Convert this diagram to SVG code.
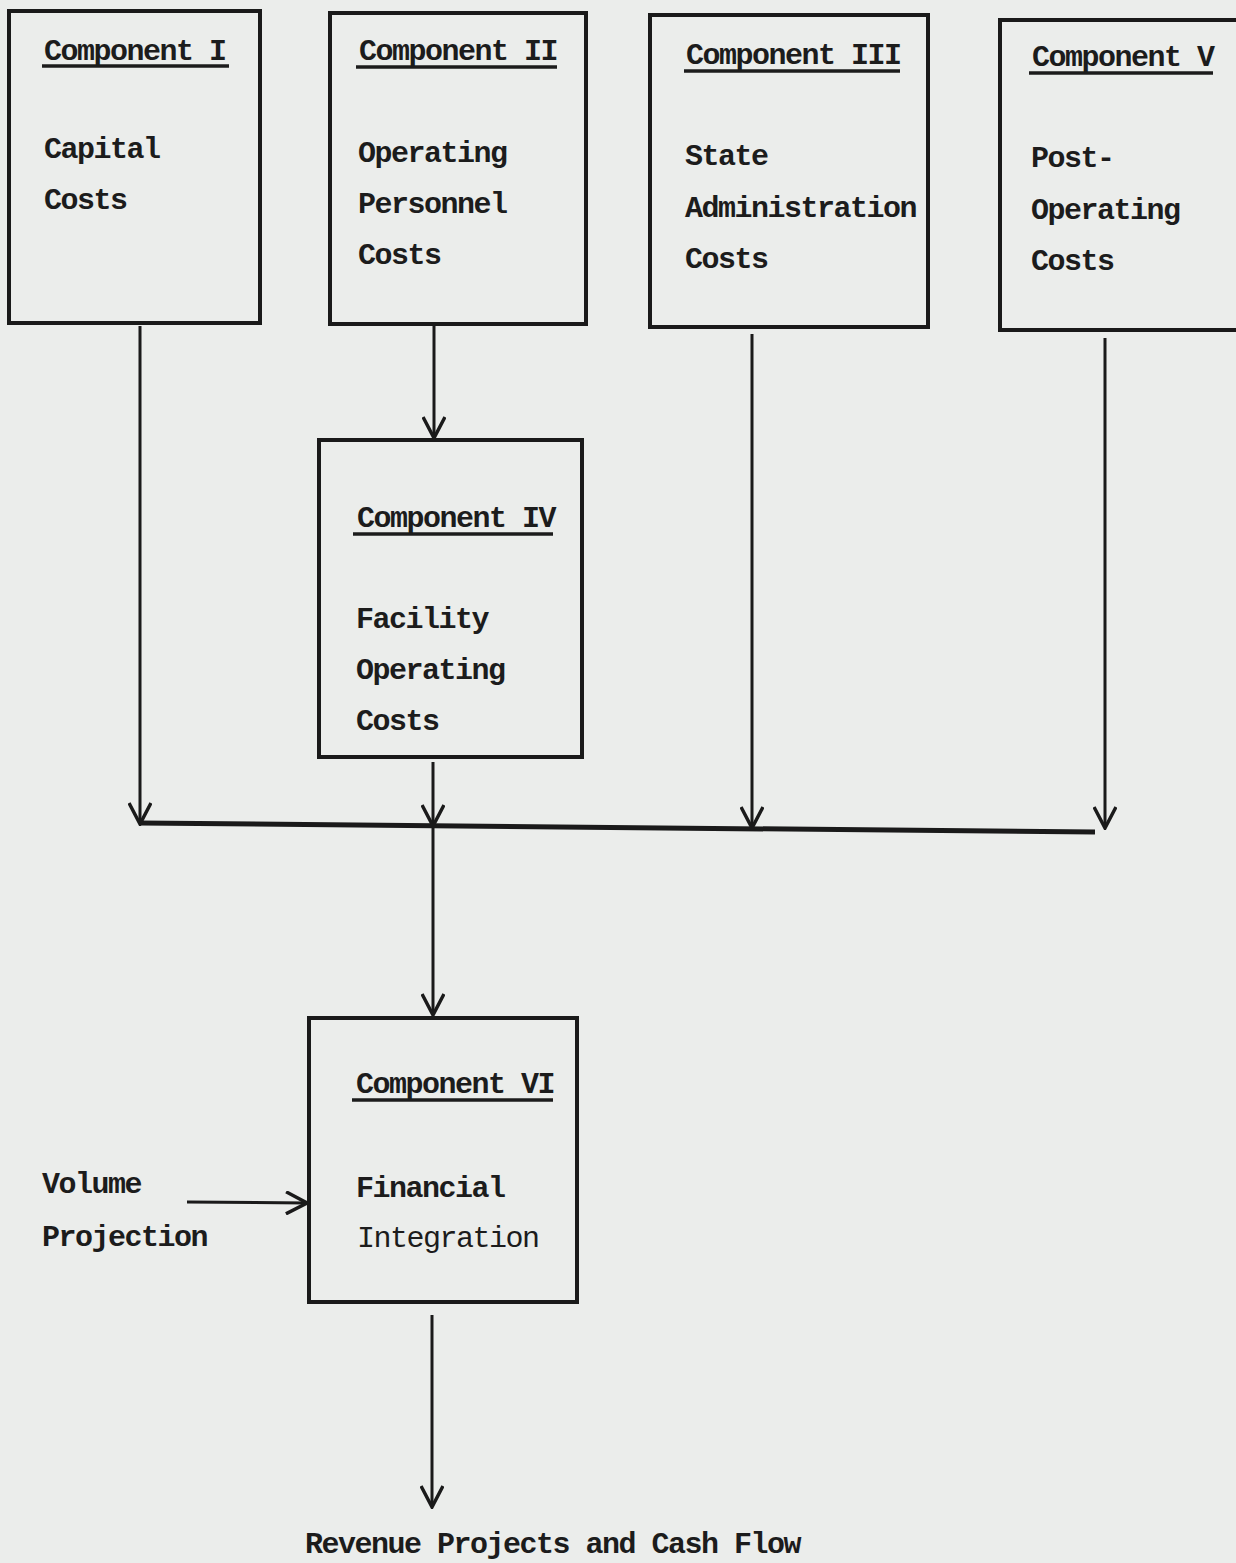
<svg xmlns="http://www.w3.org/2000/svg" width="1236" height="1563" viewBox="0 0 1236 1563">
<defs>
<style>
.bg{fill:#ebedeb}
.box{fill:none;stroke:#1a1a1a;stroke-width:4}
.t{font-family:"Liberation Mono","Courier New",monospace;font-weight:bold;font-size:30px;letter-spacing:-1.5px;fill:#1c1c1c}
.n{font-weight:normal}
.u{stroke:#1c1c1c;stroke-width:3.5}
.ln{fill:none;stroke:#1a1a1a;stroke-width:3}
.bus{fill:none;stroke:#1a1a1a;stroke-width:5}
</style>
<marker id="ah" markerUnits="userSpaceOnUse" viewBox="0 0 24 24" refX="22" refY="12" markerWidth="24" markerHeight="24" orient="auto">
<path d="M1,1 L22,12 L1,23" fill="none" stroke="#1a1a1a" stroke-width="3.5"/>
</marker>
</defs>
<rect class="bg" x="0" y="0" width="1236" height="1563"/>

<g id="connectors">
<line class="ln" x1="140" y1="326" x2="140" y2="824" marker-end="url(#ah)"/>
<line class="ln" x1="434" y1="326" x2="434" y2="438" marker-end="url(#ah)"/>
<line class="ln" x1="433" y1="762" x2="433" y2="826" marker-end="url(#ah)"/>
<line class="ln" x1="433" y1="826" x2="433" y2="1015" marker-end="url(#ah)"/>
<line class="ln" x1="752" y1="334" x2="752" y2="828" marker-end="url(#ah)"/>
<line class="ln" x1="1105" y1="338" x2="1105" y2="828" marker-end="url(#ah)"/>
<line class="bus" x1="140" y1="823" x2="1095" y2="832"/>
<line class="ln" x1="187" y1="1202" x2="307" y2="1203" marker-end="url(#ah)"/>
<line class="ln" x1="432" y1="1315" x2="432" y2="1507" marker-end="url(#ah)"/>
</g>

<g id="comp1">
<rect class="box" x="9" y="11" width="251" height="312"/>
<text class="t" x="44" y="60">Component I</text>
<line class="u" x1="42" y1="66" x2="229" y2="66"/>
<text class="t" x="44" y="158">Capital</text>
<text class="t" x="44" y="209">Costs</text>
</g>

<g id="comp2">
<rect class="box" x="330" y="13" width="256" height="311"/>
<text class="t" x="359" y="60">Component II</text>
<line class="u" x1="356" y1="67" x2="557" y2="67"/>
<text class="t" x="358" y="162">Operating</text>
<text class="t" x="358" y="213">Personnel</text>
<text class="t" x="358" y="264">Costs</text>
</g>

<g id="comp3">
<rect class="box" x="650" y="15" width="278" height="312"/>
<text class="t" x="686" y="64">Component III</text>
<line class="u" x1="684" y1="71" x2="900" y2="71"/>
<text class="t" x="685" y="165">State</text>
<text class="t" x="685" y="217">Administration</text>
<text class="t" x="685" y="268">Costs</text>
</g>

<g id="comp5">
<rect class="box" x="1000" y="20" width="240" height="310"/>
<text class="t" x="1032" y="66">Component V</text>
<line class="u" x1="1029" y1="73" x2="1213" y2="73"/>
<text class="t" x="1031" y="167">Post-</text>
<text class="t" x="1031" y="219">Operating</text>
<text class="t" x="1031" y="270">Costs</text>
</g>

<g id="comp4">
<rect class="box" x="319" y="440" width="263" height="317"/>
<text class="t" x="357" y="527">Component IV</text>
<line class="u" x1="353" y1="534" x2="553" y2="534"/>
<text class="t" x="356" y="628">Facility</text>
<text class="t" x="356" y="679">Operating</text>
<text class="t" x="356" y="730">Costs</text>
</g>

<g id="comp6">
<rect class="box" x="309" y="1018" width="268" height="284"/>
<text class="t" x="356" y="1093">Component VI</text>
<line class="u" x1="352" y1="1100" x2="553" y2="1100"/>
<text class="t" x="356" y="1197">Financial</text>
<text class="t n" x="357" y="1247">Integration</text>
</g>

<g id="volume">
<text class="t" x="42" y="1193">Volume</text>
<text class="t" x="42" y="1246">Projection</text>
</g>

<g id="output">
<text class="t" x="305" y="1553">Revenue Projects and Cash Flow</text>
</g>
</svg>
